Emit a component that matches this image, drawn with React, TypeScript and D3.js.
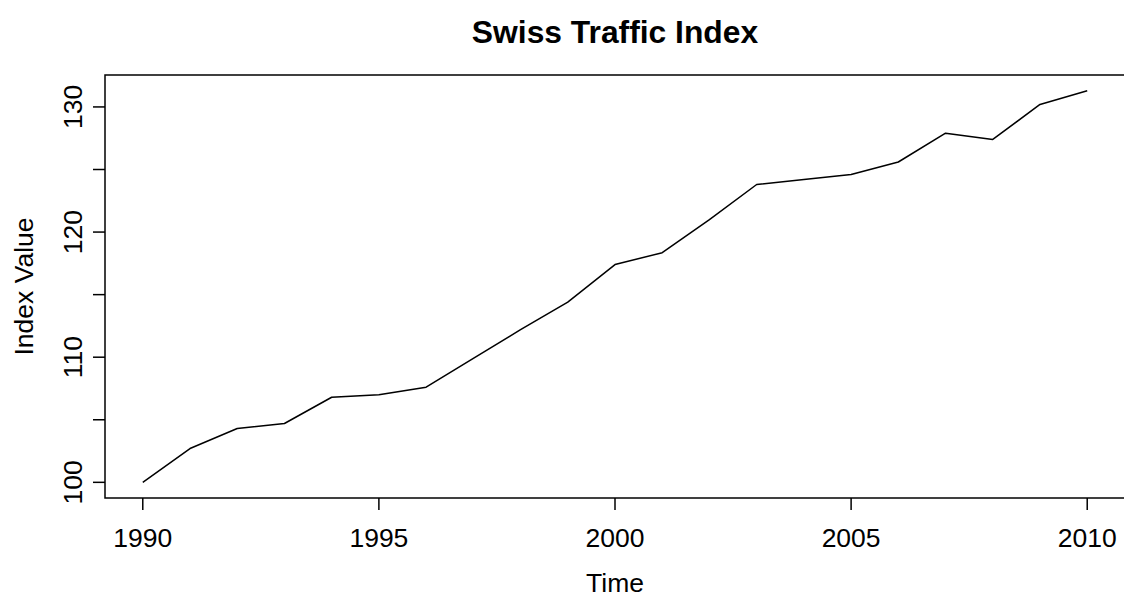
import React, { useEffect, useRef } from 'react';
import * as d3 from 'd3';

// Swiss traffic index, yearly values
const years: number[] = [
  1990, 1991, 1992, 1993, 1994, 1995, 1996, 1997, 1998, 1999, 2000,
  2001, 2002, 2003, 2004, 2005, 2006, 2007, 2008, 2009, 2010,
];
const indexValues: number[] = [
  100.0, 102.7, 104.3, 104.7, 106.8, 107.0, 107.6, 109.9, 112.2, 114.4, 117.4,
  118.35, 121.0, 123.8, 124.2, 124.6, 125.6, 127.9, 127.4, 130.2, 131.3,
];
const xTicks: number[] = [1990, 1995, 2000, 2005, 2010];
const yTicks: number[] = [100, 105, 110, 115, 120, 125, 130];
const yTickLabels: string[] = ['100', '', '110', '', '120', '', '130'];

const TITLE = 'Swiss Traffic Index';
const X_LABEL = 'Time';
const Y_LABEL = 'Index Value';

const App: React.FC = () => {
  const svgRef = useRef<SVGSVGElement>(null);

  useEffect(() => {
    if (!svgRef.current) return;

    const width = 1124;
    const height = 598;
    const plot = { left: 105, right: 1125, top: 75, bottom: 498 };
    const font = '"Liberation Sans", Arial, Helvetica, sans-serif';

    const svg = d3.select(svgRef.current);
    svg.selectAll('*').remove();

    // R-style 4% padding on both axes
    const pad = (ext: [number, number]): [number, number] => {
      const d = (ext[1] - ext[0]) * 0.04;
      return [ext[0] - d, ext[1] + d];
    };
    const xExt = d3.extent(years) as [number, number];
    const yExt = d3.extent(indexValues) as [number, number];

    const x = d3.scaleLinear().domain(pad(xExt)).range([plot.left, plot.right]);
    const y = d3.scaleLinear().domain(pad(yExt)).range([plot.bottom, plot.top]);

    svg.append('rect')
      .attr('width', width)
      .attr('height', height)
      .attr('fill', '#ffffff');

    // Data line
    const line = d3.line<number>()
      .x((_, i) => x(years[i]))
      .y((d) => y(d));

    svg.append('path')
      .datum(indexValues)
      .attr('fill', 'none')
      .attr('stroke', '#000')
      .attr('stroke-width', 1.5)
      .attr('stroke-linejoin', 'round')
      .attr('d', line);

    // Plot box
    svg.append('rect')
      .attr('x', plot.left)
      .attr('y', plot.top)
      .attr('width', plot.right - plot.left)
      .attr('height', plot.bottom - plot.top)
      .attr('fill', 'none')
      .attr('stroke', '#000')
      .attr('stroke-width', 1.5);

    // X axis
    const xAxis = svg.append('g');
    xAxis.selectAll('line')
      .data(xTicks)
      .join('line')
      .attr('x1', (d) => x(d))
      .attr('x2', (d) => x(d))
      .attr('y1', plot.bottom)
      .attr('y2', plot.bottom + 12)
      .attr('stroke', '#000')
      .attr('stroke-width', 1.5);
    xAxis.selectAll('text')
      .data(xTicks)
      .join('text')
      .attr('x', (d) => x(d))
      .attr('y', 547)
      .attr('text-anchor', 'middle')
      .style('font-family', font)
      .style('font-size', '26.5px')
      .text((d) => String(d));

    // Y axis
    const yAxis = svg.append('g');
    yAxis.selectAll('line')
      .data(yTicks)
      .join('line')
      .attr('x1', plot.left - 12)
      .attr('x2', plot.left)
      .attr('y1', (d) => y(d))
      .attr('y2', (d) => y(d))
      .attr('stroke', '#000')
      .attr('stroke-width', 1.5);
    yAxis.selectAll('text')
      .data(yTicks)
      .join('text')
      .attr('transform', (d) => `translate(81.5,${y(d)}) rotate(-90)`)
      .attr('text-anchor', 'middle')
      .style('font-family', font)
      .style('font-size', '26.5px')
      .text((_, i) => yTickLabels[i]);

    // Axis titles
    svg.append('text')
      .attr('x', (plot.left + plot.right) / 2)
      .attr('y', 592)
      .attr('text-anchor', 'middle')
      .style('font-family', font)
      .style('font-size', '26.5px')
      .text(X_LABEL);

    svg.append('text')
      .attr('transform', `translate(33,${(plot.top + plot.bottom) / 2}) rotate(-90)`)
      .attr('text-anchor', 'middle')
      .style('font-family', font)
      .style('font-size', '26.5px')
      .text(Y_LABEL);

    // Main title
    svg.append('text')
      .attr('x', (plot.left + plot.right) / 2)
      .attr('y', 43)
      .attr('text-anchor', 'middle')
      .style('font-family', font)
      .style('font-size', '31.8px')
      .style('font-weight', 'bold')
      .text(TITLE);
  }, []);

  return (
    <div style={{ position: 'absolute', left: 0, top: 0 }}>
      <svg ref={svgRef} width={1124} height={598} style={{ display: 'block' }} />
    </div>
  );
};

export default App;
